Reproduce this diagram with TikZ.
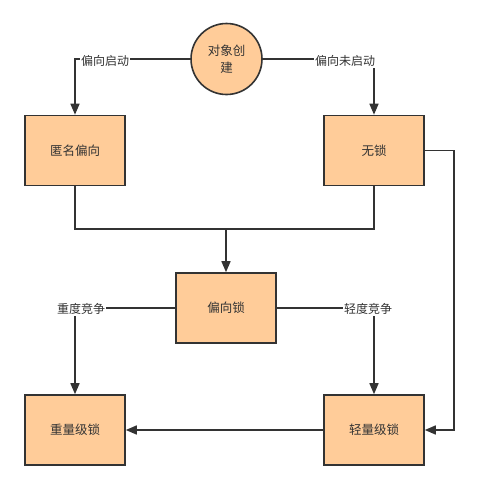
\documentclass[tikz,border=0pt]{standalone}
\usepackage{fontspec}
\setmainfont{Noto Sans CJK SC}
\usetikzlibrary{arrows.meta}
\definecolor{boxfill}{HTML}{FFCC99}
\definecolor{ink}{HTML}{333333}
\begin{document}
\begin{tikzpicture}[x=1pt,y=-1pt,
  lockbox/.style={draw=ink,line width=1.6pt,fill=boxfill,minimum width=100pt,minimum height=70pt,inner sep=0pt,font=\fontsize{12.5}{15}\selectfont,text=ink},
  startnode/.style={circle,draw=ink,line width=1.6pt,fill=boxfill,minimum size=71pt,inner sep=0pt,align=center,font=\fontsize{12.5}{17}\selectfont,text=ink},
  edgelabel/.style={fill=white,inner sep=1pt,font=\fontsize{12}{14}\selectfont,text=ink},
  conn/.style={draw=ink,line width=1.6pt},
  arr/.style={conn,-{Triangle[length=11pt,width=9pt]}}
]
\useasboundingbox (0,0) rectangle (479,490);
\node[startnode] (start) at (226.5,59) {对象创\\建};
\node[lockbox] (anon) at (75,150.5) {匿名偏向};
\node[lockbox] (nolock) at (374,150.5) {无锁};
\node[lockbox] (biased) at (226,308) {偏向锁};
\node[lockbox] (heavy) at (75,430) {重量级锁};
\node[lockbox] (light) at (374,430) {轻量级锁};
\coordinate (merge) at (226,229);
% from start
\draw[arr] (start.west) -| (anon.north);
\node[edgelabel] (l1) at (105,61) {偏向启动};
\draw[arr] (start.east) -| (nolock.north);
\node[edgelabel] (l2) at (345,61) {偏向未启动};
% merge
\draw[conn] (anon.south) |- (merge);
\draw[conn] (nolock.south) |- (merge);
\draw[arr] (merge) -- (biased.north);
% competition
\draw[arr] (biased.west) -| (heavy.north);
\node[edgelabel] (l3) at (81,309) {重度竞争};
\draw[arr] (biased.east) -| (light.north);
\node[edgelabel] (l4) at (368,309) {轻度竞争};
% bottom
\draw[arr] (light.west) -- (heavy.east);
% right loop
\coordinate (rc1) at (454,150.5);
\coordinate (rc2) at (454,430);
\draw[arr] (nolock.east) -- (rc1) -- (rc2) -- (light.east);
\end{tikzpicture}
\end{document}
